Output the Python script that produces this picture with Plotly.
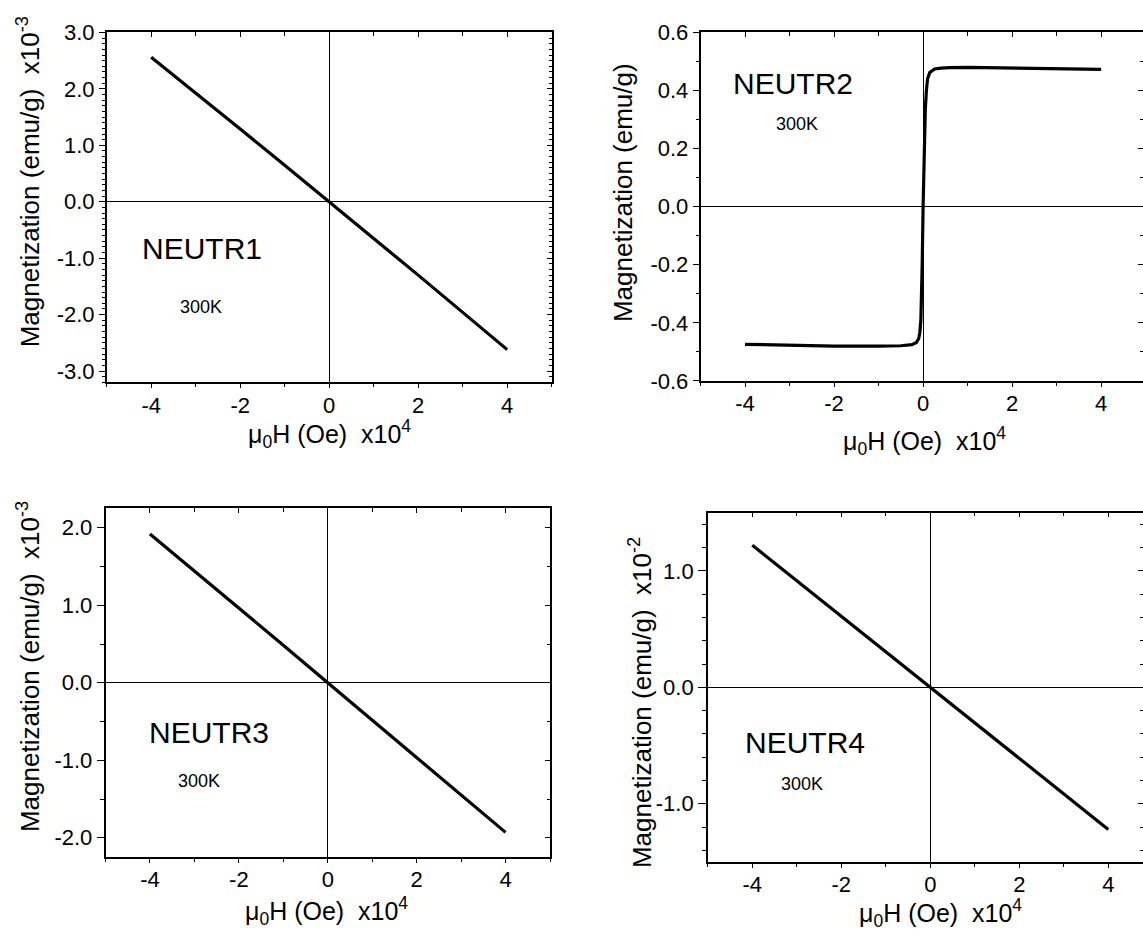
import plotly.graph_objects as go

W, H = 1143, 938
FONT = "Liberation Sans, Arial, sans-serif"

# ---------------- data (field in units of 1e4 Oe) ----------------
field = [-4, -3, -2, -1, 0, 1, 2, 3, 4]
m_neutr1 = [2.56, 1.93, 1.29, 0.645, 0.0, -0.65, -1.30, -1.96, -2.62]   # x1e-3 emu/g
m_neutr3 = [1.92, 1.445, 0.965, 0.485, 0.0, -0.485, -0.965, -1.45, -1.93]   # x1e-3 emu/g
m_neutr4 = [1.22, 0.915, 0.61, 0.305, 0.0, -0.305, -0.61, -0.915, -1.22]   # x1e-2 emu/g

field_neutr2 = [-4, -3, -2, -1, -0.5, -0.25, -0.15, -0.1, -0.074, -0.05, -0.037, -0.02,
                0.0, 0.02, 0.05, 0.075, 0.1, 0.15, 0.2, 0.26, 0.4, 0.6, 1, 2, 3, 4]
m_neutr2 = [-0.474, -0.477, -0.480, -0.480, -0.479, -0.475, -0.468, -0.455, -0.435, -0.39, -0.335, -0.2,
            0.0, 0.18, 0.335, 0.40, 0.44, 0.462, 0.468, 0.474, 0.477, 0.479, 0.4795, 0.478, 0.476, 0.473]

x_tickvals = [-4, -2, 0, 2, 4]
x_ticktext = ["-4", "-2", "0", "2", "4"]
y1_tickvals = [-3, -2, -1, 0, 1, 2, 3]
y1_ticktext = ["-3.0", "-2.0", "-1.0", "0.0", "1.0", "2.0", "3.0"]
y2_tickvals = [-0.6, -0.4, -0.2, 0, 0.2, 0.4, 0.6]
y2_ticktext = ["-0.6", "-0.4", "-0.2", "0.0", "0.2", "0.4", "0.6"]
y3_tickvals = [-2, -1, 0, 1, 2]
y3_ticktext = ["-2.0", "-1.0", "0.0", "1.0", "2.0"]
y4_tickvals = [-1, 0, 1]
y4_ticktext = ["-1.0", "0.0", "1.0"]

names = ["NEUTR1", "NEUTR2", "NEUTR3", "NEUTR4"]
temps = ["300K", "300K", "300K", "300K"]
ytitles = ["Magnetization (emu/g)\u00a0\u00a0x10<sup>-3</sup>",
           "Magnetization (emu/g)",
           "Magnetization (emu/g)\u00a0\u00a0x10<sup>-3</sup>",
           "Magnetization (emu/g)\u00a0\u00a0x10<sup>-2</sup>"]
xtitle = "\u03bc<sub>0</sub>H (Oe)\u00a0\u00a0x10<sup>4</sup>"

# ---------------- layout geometry (pixels) ----------------
panels = [
    dict(px=(106.7, 551.7), py=(21, 380.5), xr=[-5, 5], yr=[-3.2, 3.0],
         yt=(y1_tickvals, y1_ticktext), ydt=0.1, ymaj=6, ymin=2.5, rline=True,
         xs=field, ys=m_neutr1,
         lab=(-2.85, -0.82), tmp=(-2.89, -1.86),
         ytp=(28, 175), xtp=(329, 434)),
    dict(px=(700.5, 1143), py=(21, 379), xr=[-5, 4.94], yr=[-0.6, 0.6],
         yt=(y2_tickvals, y2_ticktext), ydt=0.1, ymaj=6, ymin=3, rline=False,
         xs=field_neutr2, ys=m_neutr2,
         lab=(-2.92, 0.424), tmp=(-2.83, 0.284),
         ytp=(623, 186), xtp=(924, 441)),
    dict(px=(105.5, 550), py=(510, 868.3), xr=[-5, 5], yr=[-2.25, 2.25],
         yt=(y3_tickvals, y3_ticktext), ydt=0.5, ymaj=7, ymin=4, rline=True,
         xs=field, ys=m_neutr3,
         lab=(-2.67, -0.64), tmp=(-2.89, -1.27),
         ytp=(28, 673), xtp=(326, 924)),
    dict(px=(707.8, 1143), py=(514.3, 873.3), xr=[-5, 4.78], yr=[-1.5, 1.5],
         yt=(y4_tickvals, y4_ticktext), ydt=0.2, ymaj=8, ymin=4, rline=False,
         xs=field, ys=m_neutr4,
         lab=(-2.82, -0.477), tmp=(-2.89, -0.834),
         ytp=(640, 710), xtp=(940, 926)),
]

fig = go.Figure()
layout = dict(width=W, height=H, margin=dict(l=0, r=0, t=0, b=0),
              paper_bgcolor="white", plot_bgcolor="white", showlegend=False,
              font=dict(family=FONT, color="black"))
annotations = []
TICKF = dict(size=22, family=FONT, color="black")

for i, p in enumerate(panels):
    n = i + 1
    xd = [p["px"][0] / W, min(1.0, p["px"][1] / W)]
    yd = [1 - p["py"][1] / H, 1 - p["py"][0] / H]
    xk, yk = f"xaxis{n}", f"yaxis{n}"
    xo, yo = f"xaxis{n+4}", f"yaxis{n+4}"
    xid, yid = f"x{n}", f"y{n}"
    xoid, yoid = f"x{n+4}", f"y{n+4}"

    layout[xk] = dict(domain=xd, range=p["xr"], anchor=yid, showgrid=False,
                      showline=True, linecolor="black", linewidth=1.5, mirror=False,
                      zeroline=True, zerolinecolor="black", zerolinewidth=1.3,
                      ticks="outside", ticklen=4, tickwidth=1.3, tickcolor="black",
                      tickmode="array", tickvals=x_tickvals, ticktext=x_ticktext,
                      minor=dict(dtick=1, tick0=0, ticks="outside", ticklen=3,
                                 tickwidth=1.1, tickcolor="black", showgrid=False),
                      tickfont=TICKF, ticklabelstandoff=-2)
    layout[yk] = dict(domain=yd, range=p["yr"], anchor=xid, showgrid=False,
                      showline=True, linecolor="black", linewidth=1.5, mirror=False,
                      zeroline=True, zerolinecolor="black", zerolinewidth=1.3,
                      ticks="outside", ticklen=p["ymaj"], tickwidth=1.3, tickcolor="black",
                      tickmode="array", tickvals=p["yt"][0], ticktext=p["yt"][1],
                      minor=dict(dtick=p["ydt"], tick0=0, ticks="outside", ticklen=p["ymin"],
                                 tickwidth=1.1, tickcolor="black", showgrid=False),
                      tickfont=TICKF, ticklabelstandoff=0)
    # mirrored axes (top and right) with inward ticks
    layout[xo] = dict(overlaying=xid, side="top", anchor=yid, range=p["xr"],
                      showgrid=False, showline=True, linecolor="black", linewidth=1.5,
                      zeroline=False, showticklabels=False,
                      ticks="inside", ticklen=5, tickwidth=1.3, tickcolor="black",
                      tickmode="array", tickvals=x_tickvals,
                      minor=dict(dtick=1, tick0=0, ticks="inside", ticklen=4,
                                 tickwidth=1.1, tickcolor="black", showgrid=False))
    layout[yo] = dict(overlaying=yid, side="right", anchor=xid, range=p["yr"],
                      showgrid=False, showline=p["rline"], linecolor="black", linewidth=1.5,
                      zeroline=False, showticklabels=False,
                      ticks="inside", ticklen=5, tickwidth=1.3, tickcolor="black",
                      tickmode="array", tickvals=p["yt"][0],
                      minor=dict(dtick=p["ydt"], tick0=0, ticks="inside", ticklen=3,
                                 tickwidth=1.1, tickcolor="black", showgrid=False))

    fig.add_trace(go.Scatter(x=p["xs"], y=p["ys"], mode="lines",
                             line=dict(color="black", width=3.2),
                             xaxis=xid, yaxis=yid, hoverinfo="skip"))
    fig.add_trace(go.Scatter(x=[None], y=[None], mode="lines", xaxis=xoid, yaxis=yid,
                             hoverinfo="skip"))
    fig.add_trace(go.Scatter(x=[None], y=[None], mode="lines", xaxis=xid, yaxis=yoid,
                             hoverinfo="skip"))

    annotations.append(dict(x=p["lab"][0], y=p["lab"][1], xref=xid, yref=yid,
                            text=names[i], showarrow=False,
                            font=dict(size=30, family=FONT, color="black"),
                            xanchor="center", yanchor="middle"))
    annotations.append(dict(x=p["tmp"][0], y=p["tmp"][1], xref=xid, yref=yid,
                            text=temps[i], showarrow=False,
                            font=dict(size=18, family=FONT, color="black"),
                            xanchor="center", yanchor="middle"))
    annotations.append(dict(x=p["ytp"][0] / W, y=1 - p["ytp"][1] / H, xref="paper", yref="paper",
                            text=ytitles[i], showarrow=False, textangle=-90,
                            font=dict(size=26, family=FONT, color="black"),
                            xanchor="center", yanchor="middle"))
    annotations.append(dict(x=p["xtp"][0] / W, y=1 - p["xtp"][1] / H, xref="paper", yref="paper",
                            text=xtitle, showarrow=False,
                            font=dict(size=25, family=FONT, color="black"),
                            xanchor="center", yanchor="middle"))

layout["annotations"] = annotations
fig.update_layout(**layout)
fig.write_html("out.html")
